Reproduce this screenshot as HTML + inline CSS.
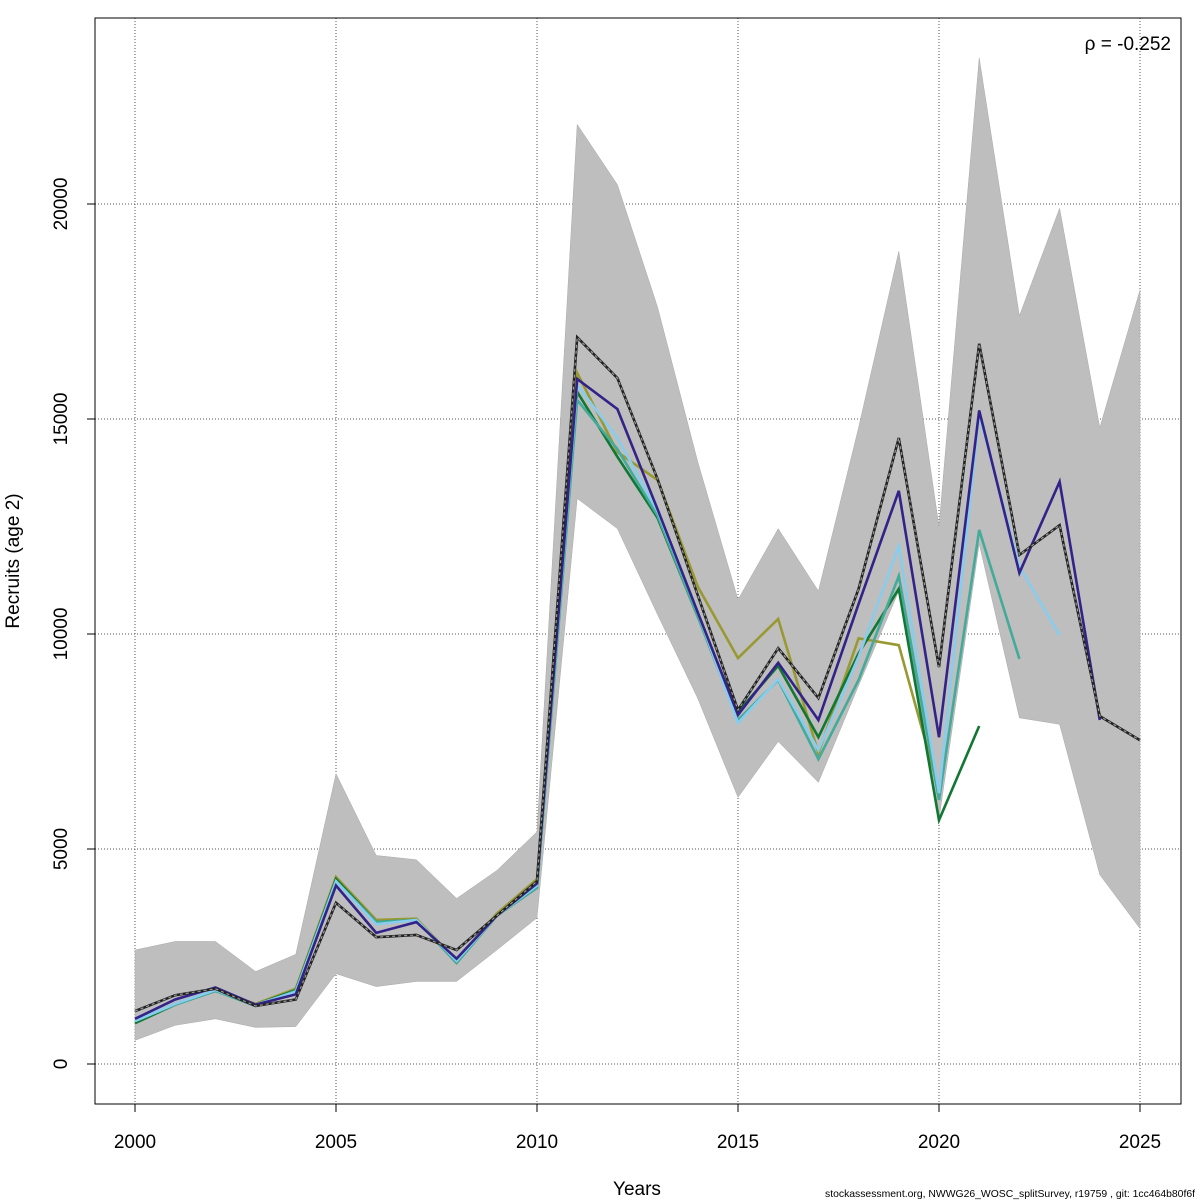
<!DOCTYPE html>
<html><head><meta charset="utf-8"><style>
body{margin:0;background:#fff;}
svg{display:block;font-family:"Liberation Sans",sans-serif;}
</style></head><body>
<svg id="chart" width="1200" height="1200" xmlns="http://www.w3.org/2000/svg">
<rect width="1200" height="1200" fill="#fff"/>
<g id="grid"></g>
<g id="band"></g>
<g id="lines"></g>
<g id="axes"></g>
<rect x="95" y="18" width="1086" height="1086" fill="none" stroke="#000" stroke-width="1"/>
<text x="1171" y="50" font-size="19" text-anchor="end">ρ = -0.252</text>
<text x="637" y="1195" font-size="19" text-anchor="middle">Years</text>
<text transform="translate(19,561) rotate(-90)" font-size="19" text-anchor="middle">Recruits (age 2)</text>
<text x="1195" y="1197" font-size="10.4" text-anchor="end">stockassessment.org, NWWG26_WOSC_splitSurvey, r19759 , git: 1cc464b80f6f</text>
</svg>
<script>
const years=[2000,2001,2002,2003,2004,2005,2006,2007,2008,2009,2010,2011,2012,2013,2014,2015,2016,2017,2018,2019,2020,2021,2022,2023,2024,2025];
const bandUpper=[2650,2850,2850,2150,2550,6750,4850,4750,3850,4500,5400,21850,20450,17600,14000,10800,12450,11000,14800,18900,12500,23400,17400,19900,14800,18000];
const bandLower=[550,900,1050,850,870,2100,1800,1920,1920,2650,3400,13150,12450,10450,8500,6200,7500,6550,8800,11000,5700,12100,8050,7900,4400,3150];
const mainSeries=[1230,1600,1750,1350,1500,3750,2950,3000,2650,3450,4250,16900,15950,13600,10900,8230,9670,8510,11050,14560,9230,16750,11840,12530,8090,7530];
const peelNavy=[1050,1500,1780,1380,1620,4150,3050,3300,2450,3450,4200,15930,15230,12900,10500,8120,9330,8000,10700,13330,7600,15200,11420,13540,8000];
const peelSky=[1000,1400,1720,1380,1680,4250,3250,3350,2400,3450,4150,15790,14560,12850,10500,7930,8950,7300,9470,12050,6300,15100,11560,9970];
const peelTeal=[1000,1380,1700,1350,1700,4250,3300,3350,2350,3450,4100,15440,14300,12750,10400,8000,8930,7090,8930,11350,6140,12420,9420];
const peelGreen=[950,1380,1700,1380,1720,4300,3300,3350,2350,3450,4100,15630,14120,12700,10400,8190,9260,7600,9550,11050,5670,7860];
const peelOlive=[980,1400,1700,1400,1750,4350,3350,3380,2400,3500,4300,16070,14230,13580,11100,9440,10350,7230,9900,9740,6370];
const xTicks=[2000,2005,2010,2015,2020,2025];
const yTicks=[0,5000,10000,15000,20000];
const X=v=>135+(v-2000)*40.2;
const Y=v=>1064-v*0.043;
const NS="http://www.w3.org/2000/svg";
function mk(tag,parent,attrs){const e=document.createElementNS(NS,tag);for(const k in attrs)e.setAttribute(k,attrs[k]);parent.appendChild(e);return e;}
const grid=document.getElementById('grid'),band=document.getElementById('band'),lines=document.getElementById('lines'),axes=document.getElementById('axes');
xTicks.forEach(t=>{
 const l=mk('line',grid,{x1:X(t),x2:X(t),y1:18,y2:1104,stroke:'#555','stroke-width':1,'stroke-dasharray':'1,2'});
 
 
 const tk=mk('line',axes,{x1:X(t),x2:X(t),y1:1104,y2:1112,stroke:'#000'});
 
 
 const tx=mk('text',axes,{x:X(t),y:1148,'font-size':19,'text-anchor':'middle'});tx.textContent=t;
 
 
});
yTicks.forEach(t=>{
 const l=mk('line',grid,{x1:95,x2:1181,y1:Y(t),y2:Y(t),stroke:'#555','stroke-width':1,'stroke-dasharray':'1,2'});
 
 
 const tk=mk('line',axes,{x1:87,x2:95,y1:Y(t),y2:Y(t),stroke:'#000'});
 
 
 const tx=mk('text',axes,{transform:`translate(67,${Y(t)}) rotate(-90)`,'font-size':19,'text-anchor':'middle'});tx.textContent=t;
 
 
});
let pts=years.map((y,i)=>X(y)+','+Y(bandUpper[i]));
pts=pts.concat(years.map((y,i)=>X(y)+','+Y(bandLower[i])).reverse());
const poly=mk('polygon',band,{points:pts.join(' '),fill:'#bebebe',stroke:'#aaa','stroke-width':0.5});


function drawLine(arr,color,name){
 const p=mk('polyline',lines,{points:arr.map((v,i)=>X(years[i])+','+Y(v)).join(' '),fill:'none',stroke:color,'stroke-width':2.6,'stroke-linejoin':'miter'});
 
 
}
drawLine(peelOlive,'#999933','peel-2020-line');
drawLine(peelGreen,'#117733','peel-2021-line');
drawLine(peelTeal,'#44AA99','peel-2022-line');
drawLine(peelSky,'#88CCEE','peel-2023-line');
drawLine(peelNavy,'#332288','peel-2024-line');
drawLine(mainSeries,'#222','main-estimate-line');
const d=mk('polyline',lines,{points:mainSeries.map((v,i)=>X(years[i])+','+Y(v)).join(' '),fill:'none',stroke:'#999','stroke-width':1.2,'stroke-dasharray':'3,3'});


</script>
</body></html>
